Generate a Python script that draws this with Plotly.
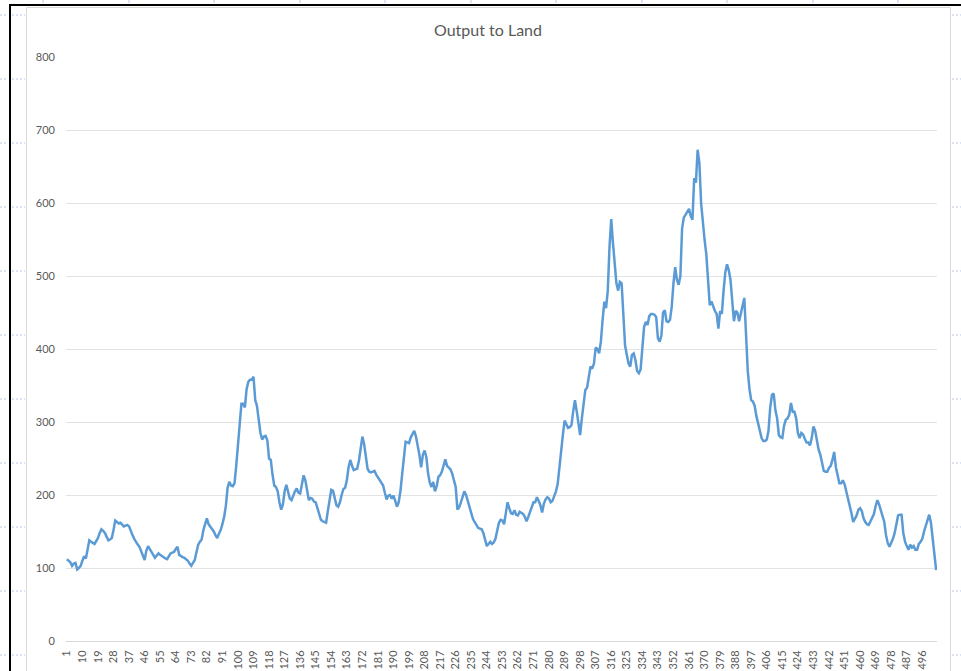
import plotly.graph_objects as go

# ---------------- data ----------------
output_values = [
    112, 110, 108, 103, 106, 107, 98, 100, 103, 110,
    116, 113, 125, 138, 136, 134, 133, 137, 141, 148,
    153, 151, 148, 143, 138, 139, 141, 152, 165, 163,
    161, 162, 160, 157, 158, 159, 157, 150, 145, 140,
    135, 132, 129, 122, 115, 111, 124, 130, 126, 122,
    118, 114, 117, 120, 118, 116, 115, 113, 112, 116,
    120, 121, 122, 126, 129, 118, 116, 115, 114, 112,
    110, 106, 103, 107, 111, 122, 132, 136, 139, 152,
    162, 168, 160, 157, 154, 150, 145, 141, 147, 152,
    160, 170, 185, 210, 218, 213, 212, 216, 240, 268,
    295, 325, 325, 320, 345, 355, 358, 358, 362, 330,
    322, 305, 285, 276, 280, 281, 275, 250, 248, 228,
    213, 211, 205, 190, 180, 187, 205, 214, 205, 195,
    193, 200, 205, 209, 203, 202, 215, 227, 220, 205,
    193, 196, 195, 191, 190, 182, 172, 166, 164, 163,
    162, 178, 195, 207, 206, 194, 186, 184, 190, 200,
    208, 210, 220, 238, 248, 240, 234, 235, 236, 247,
    265, 280, 270, 255, 236, 232, 231, 232, 233, 228,
    224, 221, 218, 213, 203, 194, 199, 200, 195, 199,
    192, 184, 190, 205, 228, 255, 273, 272, 271, 279,
    283, 288, 280, 268, 255, 238, 255, 261, 252, 230,
    217, 211, 218, 205, 212, 225, 227, 232, 242, 249,
    240, 237, 235, 229, 220, 211, 180, 183, 190, 198,
    205, 200, 192, 183, 175, 167, 163, 159, 155, 154,
    153, 148, 140, 130, 133, 136, 133, 135, 140, 152,
    162, 166, 165, 160, 178, 190, 182, 175, 174, 179,
    173, 172, 177, 176, 174, 170, 164, 170, 177, 186,
    190, 190, 197, 192, 186, 176, 188, 194, 197, 195,
    190, 192, 198, 205, 215, 240, 262, 282, 302, 296,
    292, 293, 296, 315, 330, 315, 298, 282, 305, 325,
    344, 347, 360, 376, 373, 380, 402, 400, 394, 410,
    440, 465, 456, 480, 540, 578, 545, 510, 490, 480,
    492, 490, 440, 405, 392, 380, 376, 392, 394, 385,
    370, 367, 372, 400, 430, 437, 433, 445, 448, 448,
    447, 444, 415, 410, 418, 450, 453, 438, 437, 440,
    458, 490, 512, 495, 488, 500, 565, 580, 584, 588,
    592, 582, 577, 634, 628, 673, 655, 600, 570, 550,
    530, 500, 460, 465, 458, 452, 448, 428, 452, 448,
    480, 505, 516, 508, 495, 468, 438, 452, 450, 438,
    450, 460, 470, 420, 370, 345, 330, 328, 322, 308,
    298, 286, 278, 274, 274, 276, 288, 320, 337, 339,
    316, 305, 282, 279, 278, 295, 303, 305, 310, 326,
    314, 314, 305, 285, 278, 285, 283, 277, 272, 272,
    268, 278, 294, 288, 275, 262, 255, 245, 233, 232,
    232, 237, 240, 248, 259, 238, 226, 216, 216, 220,
    215, 205, 195, 189, 175, 163, 167, 172, 180, 182,
    178, 168, 163, 160, 159, 164, 170, 174, 185, 193,
    187, 180, 172, 163, 145, 134, 129, 134, 140, 148,
    158, 172, 173, 173, 148, 136, 130, 125, 132, 128,
    130, 125, 125, 133, 136, 140, 150, 157, 165, 173,
    162, 140, 118, 97,
]
categories = list(range(1, len(output_values) + 1))

x_tick_labels = [
    "1", "10", "19", "28", "37", "46", "55", "64", "73", "82", "91", "100",
    "109", "118", "127", "136", "145", "154", "163", "172", "181", "190",
    "199", "208", "217", "226", "235", "244", "253", "262", "271", "280",
    "289", "298", "307", "316", "325", "334", "343", "352", "361", "370",
    "379", "388", "397", "406", "415", "424", "433", "442", "451", "460",
    "469", "478", "487", "496",
]
y_tick_values = [0, 100, 200, 300, 400, 500, 600, 700, 800]
chart_title = "Output to Land"

# ---------------- geometry helpers (pixels -> paper) ----------------
W, H = 961, 671
L, R, T, B = 66, 937, 57, 641


def px(x):
    return (x - L) / (R - L)


def py(y):
    return (B - y) / (B - T)


TEXT = "#595959"
FONT = "Lato"

fig = go.Figure()
fig.add_trace(go.Scatter(
    x=categories, y=output_values, mode="lines",
    line=dict(color="#5b9bd5", width=2.5),
    hoverinfo="skip", showlegend=False,
))

shapes = []
# chart area border (light grey)
shapes.append(dict(type="rect", xref="paper", yref="paper",
                   x0=px(26.5), x1=px(950.5), y0=py(680), y1=py(7.5),
                   line=dict(color="#d9d9d9", width=1), fillcolor="rgba(0,0,0,0)",
                   layer="below"))
# black frame lines
shapes.append(dict(type="line", xref="paper", yref="paper",
                   x0=px(9), x1=px(961), y0=py(5), y1=py(5),
                   line=dict(color="#000000", width=2)))
shapes.append(dict(type="line", xref="paper", yref="paper",
                   x0=px(10), x1=px(10), y0=py(4), y1=py(680),
                   line=dict(color="#000000", width=2)))
# page-break markers
mark_rows = [15, 79, 143, 207, 271, 335, 399, 463, 527, 591, 655]
for yy in mark_rows:
    shapes.append(dict(type="line", xref="paper", yref="paper",
                       x0=px(0), x1=px(8), y0=py(yy), y1=py(yy),
                       line=dict(color="#b4c7e7", width=1, dash="2px,2px")))
    shapes.append(dict(type="line", xref="paper", yref="paper",
                       x0=px(12), x1=px(25), y0=py(yy), y1=py(yy),
                       line=dict(color="#b4c7e7", width=1, dash="2px,2px")))
    shapes.append(dict(type="line", xref="paper", yref="paper",
                       x0=px(952), x1=px(961), y0=py(yy), y1=py(yy),
                       line=dict(color="#b4c7e7", width=1, dash="2px,2px")))
mark_cols = [43, 129, 214, 300, 385, 471, 556, 642, 727, 813, 898]
for xx in mark_cols:
    shapes.append(dict(type="line", xref="paper", yref="paper",
                       x0=px(xx), x1=px(xx), y0=py(0), y1=py(3),
                       line=dict(color="#b4c7e7", width=1)))

fig.update_layout(
    width=W, height=H,
    margin=dict(l=L, r=W - R, t=T, b=H - B, autoexpand=False),
    paper_bgcolor="white", plot_bgcolor="white",
    font=dict(family=FONT, color=TEXT, size=11),
    title=dict(text=chart_title, x=px(488), xref="paper", xanchor="center",
               y=1 - 30 / H, yref="container", yanchor="middle",
               font=dict(family=FONT, size=16, color=TEXT)),
    shapes=shapes,
)
fig.update_xaxes(
    range=[0.5, len(output_values) + 0.5],
    tickmode="array",
    tickvals=[int(t) for t in x_tick_labels],
    ticktext=x_tick_labels,
    tickangle=-90,
    tickfont=dict(family=FONT, size=11, color=TEXT),
    showgrid=False, zeroline=False,
    showline=True, linecolor="#d9d9d9", linewidth=1,
    ticks="", ticklabelstandoff=4,
)
fig.update_yaxes(
    range=[0, 800],
    tickmode="array", tickvals=y_tick_values,
    ticktext=[str(v) for v in y_tick_values],
    tickfont=dict(family=FONT, size=11, color=TEXT),
    showgrid=True, gridcolor="#e3e3e3", gridwidth=1,
    zeroline=False, showline=False, ticks="", ticklabelstandoff=10,
)

fig.write_html("out.html", config={"displayModeBar": False},
               post_script="document.body.style.margin='0';")
